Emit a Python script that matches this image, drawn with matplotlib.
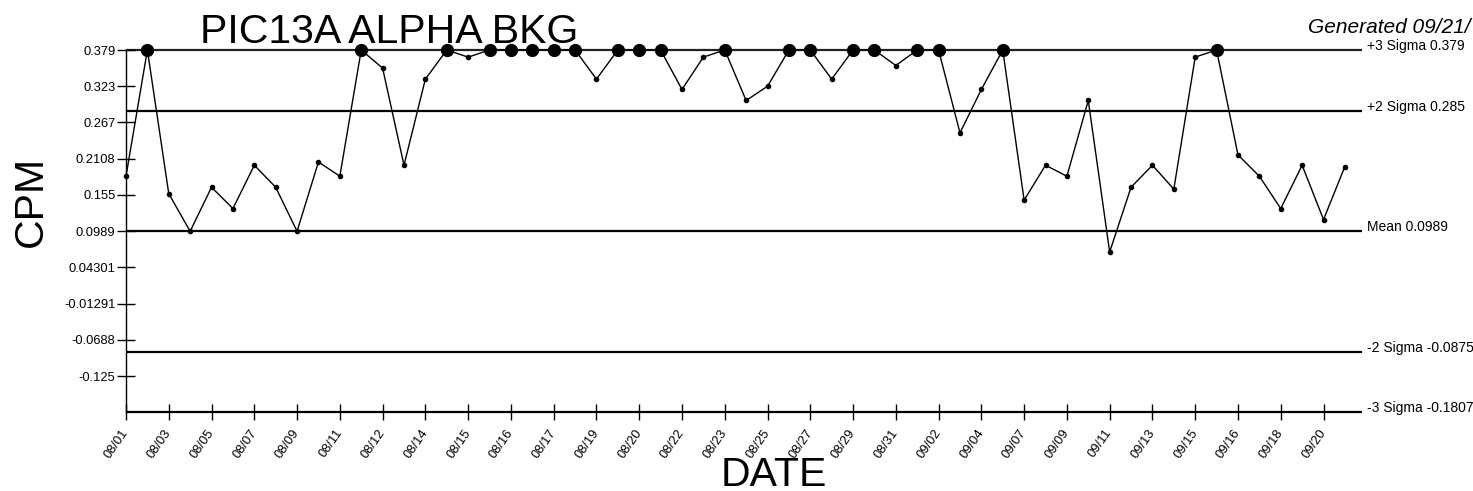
import numpy as np
import matplotlib
matplotlib.use('Agg')
import matplotlib.pyplot as plt
import matplotlib.transforms as mtransforms

plt.rcParams.update({'font.family': ['Liberation Sans', 'DejaVu Sans']})

# daily CPM readings (points above +3 sigma are pinned to the limit)
cpm = [0.184, 0.379, 0.157, 0.0989, 0.167, 0.134, 0.201, 0.167, 0.0989, 0.206,
       0.184, 0.379, 0.351, 0.201, 0.334, 0.379, 0.368, 0.379, 0.379, 0.379,
       0.379, 0.379, 0.334, 0.379, 0.379, 0.379, 0.318, 0.368, 0.379, 0.301,
       0.323, 0.379, 0.379, 0.334, 0.379, 0.379, 0.355, 0.379, 0.379, 0.251,
       0.318, 0.379, 0.147, 0.201, 0.184, 0.301, 0.067, 0.167, 0.201, 0.164,
       0.368, 0.379, 0.217, 0.184, 0.134, 0.201, 0.117, 0.199]

date_labels = ['08/01', '08/03', '08/05', '08/07', '08/09', '08/11', '08/12', '08/14',
               '08/15', '08/16', '08/17', '08/19', '08/20', '08/22', '08/23', '08/25',
               '08/27', '08/29', '08/31', '09/02', '09/04', '09/07', '09/09', '09/11',
               '09/13', '09/15', '09/16', '09/18', '09/20']

ytick_vals = [0.379, 0.323, 0.267, 0.2108, 0.155, 0.0989, 0.04301, -0.01291, -0.0688, -0.125]
ytick_labels = ['0.379', '0.323', '0.267', '0.2108', '0.155', '0.0989', '0.04301',
                '-0.01291', '-0.0688', '-0.125']

limit_names = ['+3 Sigma', '+2 Sigma', 'Mean', '-2 Sigma', '-3 Sigma']
limit_vals = [0.379, 0.285, 0.0989, -0.0875, -0.1807]

W, H = 1473, 491
fig = plt.figure(figsize=(W / 100, H / 100), dpi=100)
ax = fig.add_axes([126 / W, 1 - 412.3 / H, 1236 / W, 362.3 / H])

x = np.arange(len(cpm))
y = np.array(cpm)
ucl = limit_vals[0]

xmax = 57.8
for name, v in zip(limit_names, limit_vals):
    ax.plot([0, xmax], [v, v], color='#222222' if v == ucl else 'black',
            lw=1.6, solid_capstyle='butt', clip_on=False, zorder=1)
    ax.text(1.004, v, '%s %g' % (name, v), transform=mtransforms.blended_transform_factory(ax.transAxes, ax.transData),
            fontsize=10, ha='left', va='baseline')

ax.plot(x, y, color='black', lw=1, marker='o', ms=3, clip_on=False, zorder=3)
hi = y >= ucl
ax.plot(x[hi], y[hi], 'o', color='black', ms=8.5, clip_on=False, zorder=4)

ax.set_xlim(0, xmax)
ax.set_ylim(limit_vals[-1], ucl)

for s in ['top', 'right', 'bottom']:
    ax.spines[s].set_visible(False)
ax.spines['left'].set_linewidth(1)

ax.set_yticks(ytick_vals)
ax.set_yticklabels(ytick_labels, fontsize=9.3)
ax.set_xticks(np.arange(0, len(cpm), 2))
ax.set_xticklabels(date_labels, fontsize=9.3, rotation=55, ha='right', va='center',
                   rotation_mode='anchor')
ax.tick_params(axis='y', direction='inout', length=13, width=1, pad=1)
ax.tick_params(axis='x', direction='inout', length=12, width=1, pad=7)

fig.text(200 / W, 1 - 43 / H, 'PIC13A ALPHA BKG', fontsize=29.5, ha='left', va='baseline')
fig.text(1308 / W, 1 - 33.3 / H, 'Generated 09/21/', fontsize=15, style='italic',
         ha='left', va='baseline')
fig.text(41.7 / W, 1 - 201.5 / H, 'CPM', fontsize=29.5, rotation=90, rotation_mode='anchor',
         ha='center', va='baseline')
fig.text(774 / W, 1 - 485.7 / H, 'DATE', fontsize=29.5, ha='center', va='baseline')
fig.text(200 / W, 1 - 519 / H, 'PIC13A ALPHA EFF', fontsize=29.5, ha='left', va='baseline')

fig.savefig('out.png', dpi=100)
